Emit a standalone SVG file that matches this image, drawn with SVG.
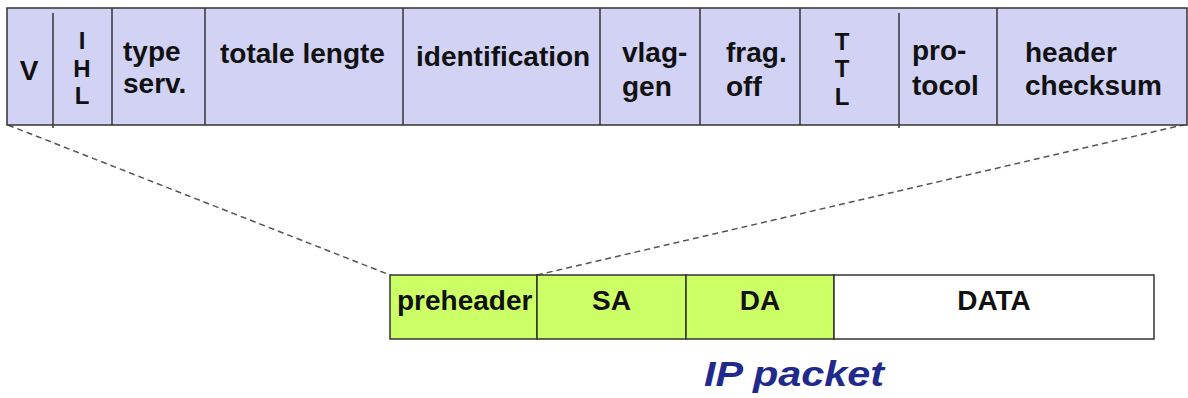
<svg xmlns="http://www.w3.org/2000/svg" width="1188" height="398" viewBox="0 0 1188 398">
<style>
.hdr{fill:#d2d2f5;stroke:#333;stroke-width:1.5}
.grn{fill:#ccff66;stroke:#333;stroke-width:1.5}
.wht{fill:#fff;stroke:#333;stroke-width:1.5}
.div{stroke:#333;stroke-width:1.5}
.t{font-family:"Liberation Sans",Arial,sans-serif;font-weight:bold;font-size:28px;fill:#111}
.s{font-family:"Liberation Sans",Arial,sans-serif;font-weight:bold;font-size:24px;fill:#111;text-anchor:middle}
.m{text-anchor:middle}
.dash{stroke:#555;stroke-width:1.5;stroke-dasharray:6 4;fill:none}
.title{font-family:"Liberation Sans",Arial,sans-serif;font-weight:bold;font-style:italic;font-size:35px;fill:#1f2a8c}
</style>
<g id="connectors">
<line class="dash" x1="8" y1="125" x2="390" y2="275"/>
<line class="dash" x1="537" y1="275" x2="1187" y2="124"/>
</g>
<g id="header">
<rect class="hdr" x="7" y="8" width="1180" height="117"/>
<line class="div" x1="53" y1="13" x2="53" y2="128"/>
<line class="div" x1="112" y1="8" x2="112" y2="125"/>
<line class="div" x1="205" y1="8" x2="205" y2="125"/>
<line class="div" x1="403" y1="8" x2="403" y2="125"/>
<line class="div" x1="600" y1="8" x2="600" y2="125"/>
<line class="div" x1="700" y1="8" x2="700" y2="125"/>
<line class="div" x1="800" y1="8" x2="800" y2="125"/>
<line class="div" x1="899" y1="13" x2="899" y2="128"/>
<line class="div" x1="997" y1="8" x2="997" y2="125"/>
</g>
<g id="field-v"><text class="t m" x="29" y="80">V</text></g>
<g id="field-ihl"><text class="s" x="82" y="49">I</text><text class="s" x="82" y="77">H</text><text class="s" x="82" y="104">L</text></g>
<g id="field-type"><text class="t" x="123" y="61">type</text><text class="t" x="123" y="93">serv.</text></g>
<g id="field-length"><text class="t" x="220" y="63">totale lengte</text></g>
<g id="field-id"><text class="t" x="416" y="66">identification</text></g>
<g id="field-flags"><text class="t" x="622" y="62">vlag-</text><text class="t" x="622" y="96">gen</text></g>
<g id="field-frag"><text class="t" x="726" y="62">frag.</text><text class="t" x="726" y="96">off</text></g>
<g id="field-ttl"><text class="s" x="842" y="50">T</text><text class="s" x="842" y="77">T</text><text class="s" x="842" y="105">L</text></g>
<g id="field-proto"><text class="t" x="912" y="60">pro-</text><text class="t" x="912" y="95">tocol</text></g>
<g id="field-checksum"><text class="t" x="1025" y="62">header</text><text class="t" x="1025" y="95">checksum</text></g>
<g id="preheader"><rect class="grn" x="390" y="275" width="147" height="64"/><text class="t" x="397" y="310">preheader</text></g>
<g id="sa"><rect class="grn" x="537" y="275" width="149" height="64"/><text class="t m" x="611.5" y="310">SA</text></g>
<g id="da"><rect class="grn" x="686" y="275" width="148" height="64"/><text class="t m" x="760" y="310">DA</text></g>
<g id="data"><rect class="wht" x="834" y="275" width="320" height="64"/><text class="t m" x="994" y="310">DATA</text></g>
<text class="title" x="704" y="386" textLength="180" lengthAdjust="spacingAndGlyphs">IP packet</text>
</svg>
